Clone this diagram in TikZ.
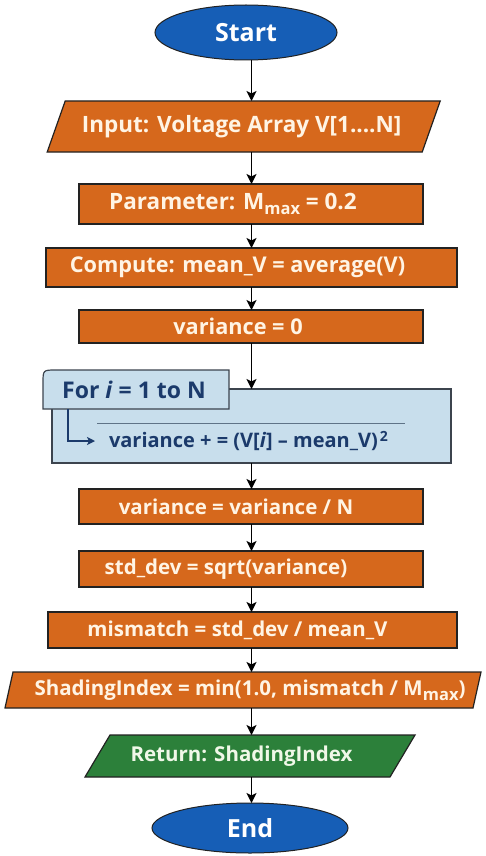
\documentclass[tikz,border=0pt]{standalone}
\usepackage{fontspec}
\setmainfont{Open Sans}
\usetikzlibrary{shapes.geometric,arrows.meta,calc}
\pgfdeclarelayer{background}
\pgfsetlayers{background,main}

\definecolor{procfill}{RGB}{214,104,28}
\definecolor{proctext}{RGB}{255,244,228}
\definecolor{termfill}{RGB}{22,94,182}
\definecolor{retfill}{RGB}{44,128,58}
\definecolor{rettext}{RGB}{240,248,232}
\definecolor{loopfill}{RGB}{200,222,236}
\definecolor{loopedge}{RGB}{60,68,78}
\definecolor{looptext}{RGB}{27,58,107}
\definecolor{ovlcol}{RGB}{95,115,135}
\definecolor{edge}{RGB}{34,34,34}

% font sizes
\newcommand\bigtxt{\fontsize{22.5}{26}\selectfont\bfseries}
\newcommand\midtxt{\fontsize{21.7}{26}\selectfont\bfseries}
\newcommand\smalltxt{\fontsize{20.5}{24}\selectfont\bfseries}

% subscript "max"
\newcommand\Msub{M\raisebox{-5pt}{\fontsize{16.5}{16}\selectfont max}}

% slanted (input/output) outline behind a rectangular node
\newcommand\slantbox[3]{%
  \begin{pgfonlayer}{background}
    \filldraw[fill=#3, draw=edge, line width=1.2pt]
      ($(#1.south west)+(-#2,0)$) -- ($(#1.north west)+(#2,0)$) --
      ($(#1.north east)+(#2,0)$) -- ($(#1.south east)+(-#2,0)$) -- cycle;
  \end{pgfonlayer}}

\begin{document}
\begin{tikzpicture}[x=1pt,y=-1pt,
  every node/.style={inner sep=0pt, outer sep=0pt},
  terminal/.style={ellipse, draw=edge, line width=1pt, fill=termfill,
    text=white, font=\fontsize{25}{30}\selectfont\bfseries},
  proc/.style={rectangle, draw=edge, line width=1.2pt, fill=procfill,
    text=proctext, font=\smalltxt},
  iotext/.style={rectangle, font=\smalltxt},
  looptxt/.style={text=looptext, font=\fontsize{20}{24}\selectfont\bfseries},
  arr/.style={draw=black, line width=1.5pt,
    -{Stealth[length=10pt,width=10pt,inset=2.5pt]}},
  looparr/.style={draw=looptext, line width=1.3pt,
    -{Stealth[length=8pt,width=8pt,inset=2pt]}},
]
\useasboundingbox (0,0) rectangle (485,856);
\coordinate (spine) at (251.5,0);

% terminals
\node[terminal, minimum width=182pt, minimum height=55pt] (start) at (246,32.5) {Start};
\node[terminal, minimum width=196pt, minimum height=50pt] (end) at (250,828) {End};

% input
\node[iotext, text=proctext, font=\bigtxt, minimum width=375pt, minimum height=51pt] (input) at (243.7,126.5)
  {Input: Voltage Array V[1....N]\hspace*{4pt}};
\slantbox{input}{9}{procfill}

% process boxes
\node[proc, font=\bigtxt, minimum width=344pt, minimum height=40pt] (param) at (251,204)
  {Parameter: \Msub{} = 0.2\hspace*{36pt}};
\node[proc, font=\midtxt, minimum width=411pt, minimum height=39pt] (compute) at (251.5,267.5)
  {Compute: mean\_V = average(V)\hspace*{28pt}};
\node[proc, font=\midtxt, minimum width=344pt, minimum height=33pt] (var0) at (251,326.5)
  {variance = 0\hspace*{26pt}};

% loop block
\node[minimum width=399pt, minimum height=74pt] (loop) at (251.5,426) {};
\node[looptxt, font=\fontsize{23}{26}\selectfont\bfseries, minimum width=186pt, minimum height=39pt] (forhdr) at (136,389.5)
  {For \textit{i} = 1 to N\hspace*{4pt}};
\begin{pgfonlayer}{background}
  \filldraw[fill=loopfill, draw=loopedge, line width=1.2pt]
    (loop.north west) rectangle (loop.south east);
  \filldraw[fill=loopfill, draw=loopedge, line width=1.2pt]
    (forhdr.south west) -- ($(forhdr.north west)+(0,13)$)
    .. controls (forhdr.north west) .. ($(forhdr.north west)+(13,0)$)
    -- (forhdr.north east) -- (forhdr.south east) -- cycle;
\end{pgfonlayer}
\node[looptxt, anchor=west, inner xsep=14pt] (body) at (95,441)
  {variance + = (V[\textit{i}] – mean\_V)\hspace{2pt}\raisebox{6pt}{\fontsize{14}{14}\selectfont 2}};
\coordinate (lstart) at ($(forhdr.south west)+(25,0)$);
\draw[looparr] (lstart) |- (body.west);
\coordinate (ovA) at (97,423);
\coordinate (ovB) at (405,423);
\draw[ovlcol, line width=0.9pt] (ovA) -- (ovB);

\node[proc, minimum width=344pt, minimum height=35pt] (varN) at (251,506.5)
  {variance = variance / N\hspace*{30pt}};
\node[proc, minimum width=344pt, minimum height=36pt] (std) at (251,569)
  {std\_dev = sqrt(variance)\hspace*{50pt}};
\node[proc, minimum width=409pt, minimum height=36pt] (mismatch) at (252.5,630)
  {mismatch = std\_dev / mean\_V\hspace*{30pt}};

% output boxes
\node[iotext, text=proctext, minimum width=468pt, minimum height=36pt] (shading) at (243,690)
  {\hspace*{14pt}ShadingIndex = min(1.0, mismatch / \Msub)};
\slantbox{shading}{4}{procfill}
\node[iotext, text=rettext, minimum width=305pt, minimum height=42pt] (ret) at (250,756)
  {Return: ShadingIndex\hspace*{17pt}};
\slantbox{ret}{12.5}{retfill}

% flow connectors
\foreach \a/\b in {start/input, input/param, param/compute, compute/var0,
                   var0/loop, loop/varN, varN/std, std/mismatch,
                   mismatch/shading, shading/ret, ret/end}
  \draw[arr] (\a.south -| spine) -- (\b.north -| spine);
\end{tikzpicture}
\end{document}
